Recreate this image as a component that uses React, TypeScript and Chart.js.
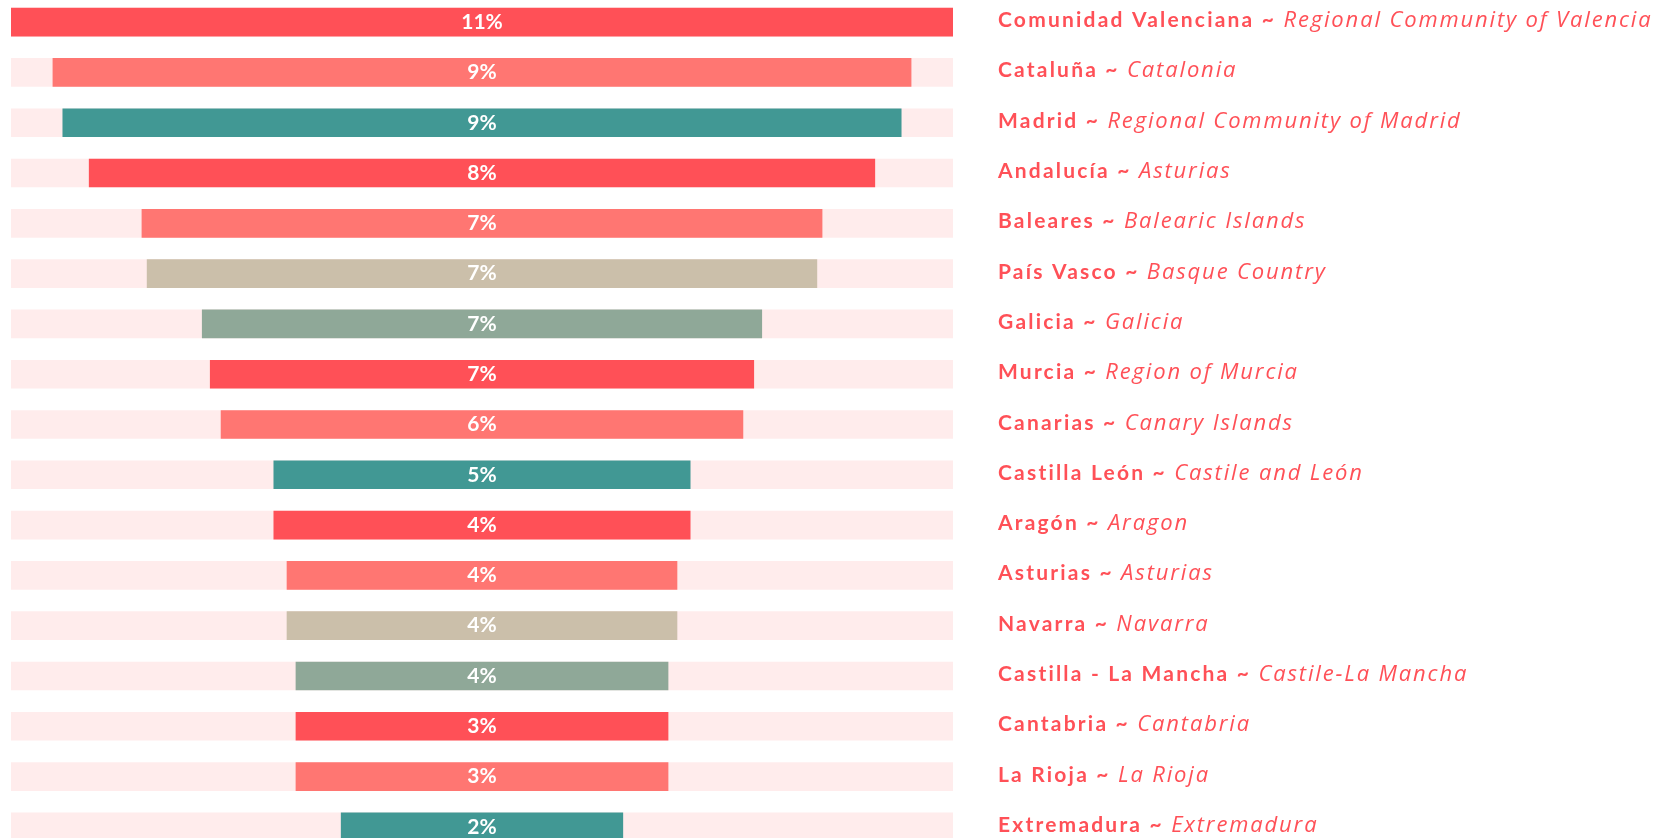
import React, { useEffect, useRef } from "react";
import { Chart, registerables } from "chart.js";

Chart.register(...registerables);

const regions = [
  "Comunidad Valenciana",
  "Cataluña",
  "Madrid",
  "Andalucía",
  "Baleares",
  "País Vasco",
  "Galicia",
  "Murcia",
  "Canarias",
  "Castilla León",
  "Aragón",
  "Asturias",
  "Navarra",
  "Castilla - La Mancha",
  "Cantabria",
  "La Rioja",
  "Extremadura",
];

const englishNames = [
  "Regional Community of Valencia",
  "Catalonia",
  "Regional Community of Madrid",
  "Asturias",
  "Balearic Islands",
  "Basque Country",
  "Galicia",
  "Region of Murcia",
  "Canary Islands",
  "Castile and León",
  "Aragon",
  "Asturias",
  "Navarra",
  "Castile-La Mancha",
  "Cantabria",
  "La Rioja",
  "Extremadura",
];

const shareLabels = ["11%", "9%", "9%", "8%", "7%", "7%", "7%", "7%", "6%", "5%", "4%", "4%", "4%", "4%", "3%", "3%", "2%"];

// relative bar size (100 = full track)
const barSize = [100, 91.1, 89.0, 83.4, 72.2, 71.1, 59.4, 57.7, 55.4, 44.2, 44.2, 41.4, 41.4, 39.5, 39.5, 39.5, 29.9];

const palette = ["#FF5057", "#FF7672", "#419894", "#FF5057", "#FF7672", "#CBBFAA", "#8FA898"];

const TEXT_COLOR = "#FF5057";
const TRACK_COLOR = "#FFECEC";

const labelPlugin = {
  id: "sideLabels",
  afterDatasetsDraw(chart: any) {
    const ctx = chart.ctx;
    const y = chart.scales.y;
    const x = chart.scales.x;
    ctx.save();
    regions.forEach((name, i) => {
      const py = y.getPixelForValue(i);
      // value labels
      ctx.textBaseline = "middle";
      (ctx as any).letterSpacing = "0px";
      ctx.font = "bold 21px Lato";
      ctx.fillStyle = "#FFFFFF";
      ctx.textAlign = "center";
      ctx.fillText(shareLabels[i], x.getPixelForValue(0), py);
      // right-hand labels
      ctx.textBaseline = "alphabetic";
      ctx.textAlign = "left";
      const lx = chart.chartArea.right + 45;
      const base = py + 5;
      ctx.fillStyle = TEXT_COLOR;
      const bold = name + " ~ ";
      (ctx as any).letterSpacing = "2.2px";
      ctx.font = "bold 21px Lato";
      ctx.fillText(bold, lx, base);
      const w = ctx.measureText(bold).width;
      (ctx as any).letterSpacing = "1.85px";
      ctx.font = "italic 400 22px 'Open Sans'";
      ctx.fillText(englishNames[i], lx + w, base);
    });
    ctx.restore();
  },
};

export default function App() {
  const ref = useRef<HTMLCanvasElement | null>(null);
  useEffect(() => {
    if (!ref.current) return;
    const chart = new Chart(ref.current, {
      type: "bar",
      data: {
        labels: regions,
        datasets: [
          {
            label: "share",
            data: barSize.map((v) => [-v / 2, v / 2]) as any,
            backgroundColor: regions.map((_, i) => palette[i % palette.length]),
            barThickness: 28,
            grouped: false,
            order: 1,
          },
          {
            label: "track",
            data: regions.map(() => [-50, 50]) as any,
            backgroundColor: TRACK_COLOR,
            barThickness: 28,
            grouped: false,
            order: 2,
          },
        ],
      },
      options: {
        indexAxis: "y",
        animation: false,
        responsive: true,
        maintainAspectRatio: false,
        layout: { padding: { left: 11, right: 715, top: 0, bottom: 0 } },
        scales: {
          x: { display: false, min: -50, max: 50 },
          y: { display: false },
        },
        plugins: {
          legend: { display: false },
          tooltip: { enabled: false },
        },
      },
      plugins: [labelPlugin],
    });
    return () => chart.destroy();
  }, []);

  return (
    <div style={{ position: "fixed", left: 0, top: 0, width: 1668, height: 838, overflow: "hidden", background: "#fff" }}>
      <div style={{ position: "absolute", left: 0, top: -3, width: 1668, height: 855 }}>
        <canvas ref={ref} />
      </div>
    </div>
  );
}
